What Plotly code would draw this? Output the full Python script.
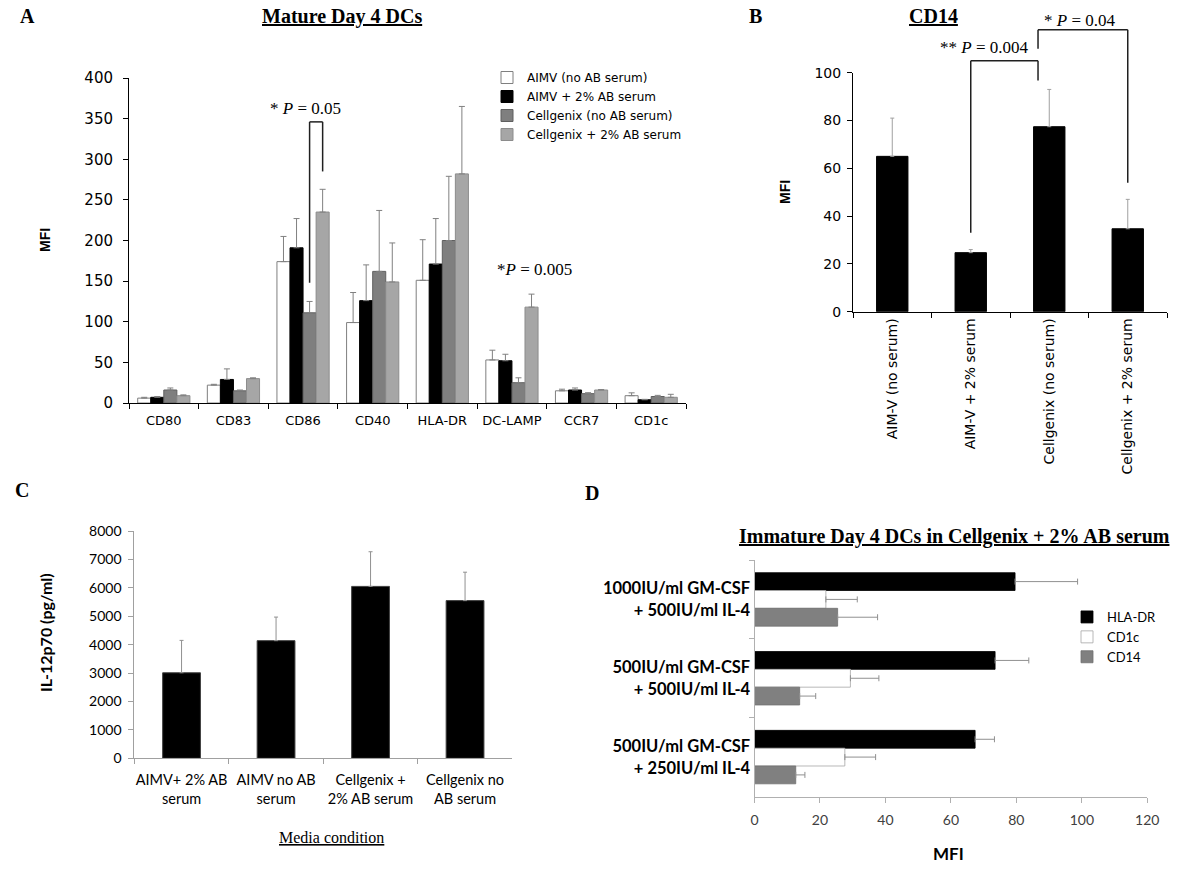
import plotly.graph_objects as go

# ---------------- Panel A data: Mature Day 4 DCs ----------------
markers_A = ["CD80", "CD83", "CD86", "CD40", "HLA-DR", "DC-LAMP", "CCR7", "CD1c"]
series_A = ["AIMV (no AB serum)", "AIMV + 2% AB serum",
            "Cellgenix (no AB serum)", "Cellgenix + 2% AB serum"]
aimv_no_ab = [6, 22, 174, 99, 151, 53, 15, 9]
aimv_no_ab_sd = [1, 1, 31, 37, 50, 12, 2, 3.5]
aimv_2ab = [7, 29, 191, 126, 171, 52, 16, 4]
aimv_2ab_sd = [1, 13, 36, 44, 56, 8, 2.5, 0.5]
cg_no_ab = [16, 15, 111, 162, 200, 25, 11.5, 8]
cg_no_ab_sd = [2.5, 1, 14, 75, 79, 6, 1.2, 1.4]
cg_2ab = [9, 30, 235, 149, 282, 118, 16, 7]
cg_2ab_sd = [1, 1, 28, 48, 83, 16, 0.5, 3.7]

# ---------------- Panel B data: CD14 ----------------
media_B = ["AIM-V (no serum)", "AIM-V + 2% serum", "Cellgenix (no serum)", "Cellgenix + 2% serum"]
cd14_mfi = [65, 24.7, 77.4, 34.7]
cd14_sd = [16, 1.3, 15.6, 12.3]

# ---------------- Panel C data: IL-12p70 ----------------
media_C = ["AIMV+ 2% AB<br>serum", "AIMV no AB<br>serum", "Cellgenix +<br>2% AB serum", "Cellgenix no<br>AB serum"]
il12 = [3010, 4140, 6050, 5550]
il12_sd = [1140, 830, 1220, 1000]

# ---------------- Panel D data: Immature Day 4 DCs ----------------
cytokines_D = ["1000IU/ml GM-CSF<br>+ 500IU/ml IL-4",
               "500IU/ml GM-CSF<br>+ 500IU/ml IL-4",
               "500IU/ml GM-CSF<br>+ 250IU/ml IL-4"]
series_D = ["HLA-DR", "CD1c", "CD14"]
hla_dr = [79.6, 73.5, 67.4]
hla_dr_sd = [19.1, 10.3, 5.9]
cd1c = [21.8, 29.3, 27.6]
cd1c_sd = [9.6, 8.7, 9.4]
cd14_d = [25.4, 13.8, 12.6]
cd14_d_sd = [12.2, 4.9, 2.8]

W, H = 1200, 870
def px(x):
    return x / W
def py(y):
    return 1 - y / H

SERIF = "Liberation Serif"
VERD = "DejaVu Sans"
CAL = "Lato"

fig = go.Figure()

# ---------- Panel A ----------
a_fill = ["#ffffff", "#000000", "#7f7f7f", "#a6a6a6"]
a_line = ["#7f7f7f", "#000000", "#5f5f5f", "#8c8c8c"]
a_vals = [aimv_no_ab, aimv_2ab, cg_no_ab, cg_2ab]
a_sds = [aimv_no_ab_sd, aimv_2ab_sd, cg_no_ab_sd, cg_2ab_sd]
for name, vals, sds, fc, lc in zip(series_A, a_vals, a_sds, a_fill, a_line):
    fig.add_trace(go.Bar(
        x=markers_A, y=vals, name=name, xaxis="x", yaxis="y", legend="legend",
        marker=dict(color=fc, line=dict(color=lc, width=1)),
        error_y=dict(type="data", array=sds, arrayminus=[0] * len(sds), symmetric=False,
                     color="#808080", thickness=1, width=3),
    ))

# ---------- Panel B ----------
fig.add_trace(go.Bar(
    x=media_B, y=cd14_mfi, xaxis="x2", yaxis="y2", showlegend=False, width=0.4,
    marker=dict(color="#000000", line=dict(color="#000000", width=1)),
    error_y=dict(type="data", array=cd14_sd, arrayminus=[0] * 4, symmetric=False,
                 color="#a0a0a0", thickness=1, width=2),
))

# ---------- Panel C ----------
fig.add_trace(go.Bar(
    x=media_C, y=il12, xaxis="x3", yaxis="y3", showlegend=False, width=0.4,
    marker=dict(color="#000000", line=dict(color="#404040", width=1)),
    error_y=dict(type="data", array=il12_sd, arrayminus=[0] * 4, symmetric=False,
                 color="#909090", thickness=1, width=2),
))

# ---------- Panel D ----------
d_fill = ["#000000", "#ffffff", "#808080"]
d_line = ["#000000", "#a6a6a6", "#707070"]
d_vals = [hla_dr, cd1c, cd14_d]
d_sds = [hla_dr_sd, cd1c_sd, cd14_d_sd]
bw = 0.226
for i, (name, vals, sds, fc, lc) in enumerate(zip(series_D, d_vals, d_sds, d_fill, d_line)):
    fig.add_trace(go.Bar(
        y=cytokines_D, x=vals, orientation="h", name=name, xaxis="x4", yaxis="y4",
        legend="legend2", width=bw, offset=-1.5 * bw + i * bw,
        marker=dict(color=fc, line=dict(color=lc, width=0.8)),
        error_x=dict(type="data", array=sds, arrayminus=[0] * len(sds), symmetric=False,
                     color="#909090", thickness=1, width=3),
    ))

# ---------- domains ----------
domA_x = [px(129), px(686)]
domA_y = [py(403), py(78)]
domB_x = [px(853), px(1167)]
domB_y = [py(311.7), py(72.7)]
domC_x = [px(134.3), px(512.3)]
domC_y = [py(758.3), py(531)]
domD_x = [px(754.5), px(1147.3)]
domD_y = [py(796.5), py(560)]

common = dict(showgrid=False, zeroline=False, showline=True, ticks="outside", ticklen=5,
              automargin=False)

fig.update_layout(
    width=W, height=H, margin=dict(l=0, r=0, t=0, b=0, autoexpand=False),
    paper_bgcolor="white", plot_bgcolor="white",
    barmode="group", bargap=0.25, bargroupgap=0,
    xaxis=dict(domain=domA_x, anchor="y", type="category", tickson="boundaries",
               linecolor="#000000", tickcolor="#000000", linewidth=1, ticklabelstandoff=5,
               tickfont=dict(family=VERD, size=13, color="#000000"), **common),
    yaxis=dict(domain=domA_y, anchor="x", range=[0, 400], dtick=50,
               linecolor="#000000", tickcolor="#000000", linewidth=1, ticklabelstandoff=7,
               tickfont=dict(family=VERD, size=15, color="#000000"), **common),
    xaxis2=dict(domain=domB_x, anchor="y2", type="category", tickson="boundaries",
                tickangle=-90, linecolor="#000000", tickcolor="#000000",
                tickfont=dict(family=VERD, size=14, color="#000000"), **common),
    yaxis2=dict(domain=domB_y, anchor="x2", range=[0, 100], dtick=20,
                linecolor="#000000", tickcolor="#000000", ticklabelstandoff=3,
                tickfont=dict(family=VERD, size=14, color="#000000"), **common),
    xaxis3=dict(domain=domC_x, anchor="y3", type="category", tickson="boundaries",
                tickangle=0, linecolor="#a0a0a0", tickcolor="#a0a0a0", ticklabelstandoff=8,
                tickfont=dict(family=CAL, size=14.5, color="#000000"), **common),
    yaxis3=dict(domain=domC_y, anchor="x3", range=[0, 8000], dtick=1000,
                linecolor="#a0a0a0", tickcolor="#a0a0a0", ticklabelstandoff=4,
                tickfont=dict(family=CAL, size=14, color="#000000"), **common),
    xaxis4=dict(domain=domD_x, anchor="y4", range=[0, 120], dtick=20,
                linecolor="#b0b0b0", tickcolor="#b0b0b0", ticklabelstandoff=6,
                tickfont=dict(family=CAL, size=14, color="#404040"), **common),
    yaxis4=dict(domain=domD_y, anchor="x4", type="category", autorange="reversed",
                tickson="boundaries", linecolor="#b0b0b0", tickcolor="#b0b0b0",
                tickfont=dict(family=CAL, size=16.5, color="#000000", weight="bold"), **common),
    legend=dict(x=px(487), y=py(63), xanchor="left", yanchor="top",
                font=dict(family=VERD, size=12, color="#000000"),
                bgcolor="rgba(0,0,0,0)", tracegroupgap=0, itemwidth=30),
    legend2=dict(x=px(1067), y=py(602), xanchor="left", yanchor="top",
                 font=dict(family=CAL, size=13, color="#000000"),
                 bgcolor="rgba(0,0,0,0)", tracegroupgap=0, itemwidth=30),
)

ann = []
def text(x, y, s, size, family, bold=False, angle=0, xref="paper", yref="paper", xanchor="center", color="#000000"):
    ann.append(dict(x=x, y=y, xref=xref, yref=yref, text=s, showarrow=False, textangle=angle,
                    xanchor=xanchor, yanchor="middle",
                    font=dict(family=family, size=size, color=color, weight="bold" if bold else "normal")))

# panel letters
text(px(27), py(16), "A", 20, SERIF, True)
text(px(755), py(16), "B", 20, SERIF, True)
text(px(22), py(490), "C", 20, SERIF, True)
text(px(592), py(493), "D", 20, SERIF, True)

# titles
text(px(342), py(17), "<u>Mature Day 4 DCs</u>", 20, SERIF, True)
text(px(933), py(16), "<u>CD14</u>", 20, SERIF, True)
text(px(954), py(536), "<u>Immature Day 4 DCs in Cellgenix + 2% AB serum</u>", 20, SERIF, True)
text(px(331), py(837), "<u>Media condition</u>", 16, SERIF)

# axis titles
text(px(45), py(240), "MFI", 14, "Liberation Sans", True, -90)
text(px(785), py(192), "MFI", 14, "Liberation Sans", True, -90)
text(px(45), py(633), "IL-12p70 (pg/ml)", 16, CAL, True, -90)
text(px(948), py(853), "MFI", 17, CAL, True)

# significance (panel A)
off = [-0.28125, -0.09375, 0.09375, 0.28125]
iA = markers_A.index("CD86")
text(iA + 0.03, 363, "* <i>P</i> = 0.05", 17, SERIF, xref="x", yref="y")
text(markers_A.index("DC-LAMP") + 0.33, 164, "*<i>P</i> = 0.005", 17, SERIF, xref="x", yref="y")

shapes = []
def seg(x0, y0, x1, y1, xref, yref):
    shapes.append(dict(type="line", x0=x0, y0=y0, x1=x1, y1=y1, xref=xref, yref=yref,
                       line=dict(color="#202020", width=1.5)))

xl, xr = iA + off[2], iA + off[3]
seg(xl, 148, xl, 346, "x", "y")
seg(xl, 346, xr, 346, "x", "y")
seg(xr, 346, xr, 285, "x", "y")

# significance (panel B) -- placed above the axis range, mapped via panel B's domain
def bx(c):
    return domB_x[0] + (c + 0.5) / len(media_B) * (domB_x[1] - domB_x[0])
def by(v):
    return domB_y[0] + v / 100 * (domB_y[1] - domB_y[0])

mid = 2 - 0.143
seg(bx(1), by(33), bx(1), by(105), "paper", "paper")
seg(bx(1), by(105), bx(mid), by(105), "paper", "paper")
seg(bx(mid), by(105), bx(mid), by(96.7), "paper", "paper")
seg(bx(mid), by(110), bx(mid), by(118), "paper", "paper")
seg(bx(mid), by(118), bx(3), by(118), "paper", "paper")
seg(bx(3), by(118), bx(3), by(54), "paper", "paper")
text(bx(1.17), by(110.4), "** <i>P</i> = 0.004", 17, SERIF)
text(bx(2.39), by(122), "* <i>P</i> = 0.04", 17, SERIF)

fig.update_layout(annotations=ann, shapes=shapes)

fig.write_html("out.html", config={"displayModeBar": False},
               post_script="document.body.style.margin='0';")
